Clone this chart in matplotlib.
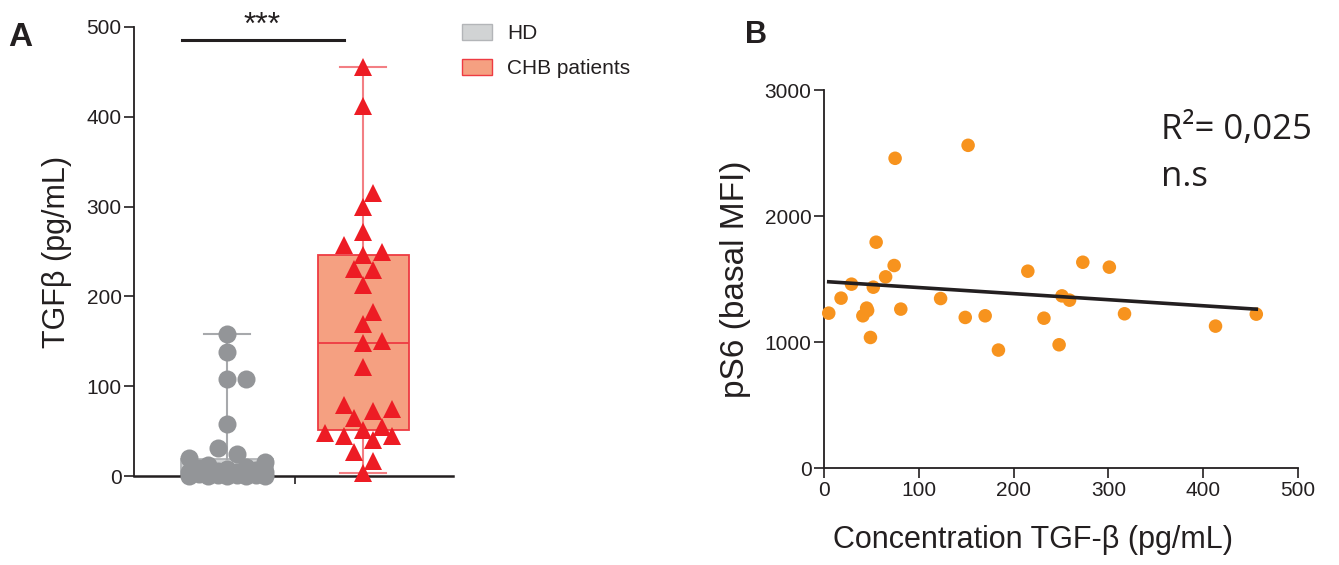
import matplotlib
matplotlib.use('Agg')
import matplotlib.pyplot as plt
import matplotlib.patches as mpatches
import numpy as np

plt.rcParams['font.family'] = ['Liberation Sans', 'DejaVu Sans']

# Panel A: TGF-beta concentration per group (pg/mL)
hd_values = np.array([158, 138, 108, 108, 58, 31, 24, 20, 16, 12, 10, 9, 8, 7, 6,
                      5, 5, 4, 3, 3, 2, 2, 1, 1, 1, 0, 0, 0, 0, 0])
chb_values = np.array([455, 412, 315, 300, 272, 257, 250, 246, 231, 229, 213, 183,
                       169, 150, 148, 121, 79, 75, 72, 65, 55, 51, 48, 45, 44, 40,
                       27, 17, 3])
group_labels = ['HD', 'CHB patients']
signif = '***'

# Panel B: pS6 basal MFI vs TGF-beta concentration
tgf_conc = np.array([5, 18, 29, 41, 45, 46, 49, 52, 55, 65, 74, 75, 81, 123, 149,
                     152, 170, 184, 215, 232, 248, 251, 259, 273, 301, 317, 413, 456])
ps6_mfi = np.array([1229, 1348, 1459, 1208, 1269, 1250, 1036, 1435, 1792, 1517, 1607,
                    2458, 1261, 1345, 1195, 2561, 1208, 936, 1562, 1189, 978, 1366,
                    1332, 1633, 1594, 1224, 1126, 1221])
r2_text = 'R\u00b2= 0,025'
ns_text = 'n.s'

ink = '#231f20'
gray_pt = '#939598'
red_pt = '#ed1c24'
orange_pt = '#f7931e'


def swarm(ax, values, center, diam_px, step_px, max_steps):
    # simple beeswarm in pixel space, values placed bottom-up
    trans = ax.transData
    c_px = trans.transform((center, 0))[0]
    placed = []
    xs = np.zeros(len(values), dtype=float)
    for i in np.argsort(values, kind='stable'):
        y_px = trans.transform((center, values[i]))[1]
        best, best_d = 0.0, -1.0
        for k in range(0, max_steps + 1):
            found = False
            for sgn in ([0] if k == 0 else [1, -1]):
                off = sgn * k * step_px
                if placed:
                    d = min(np.hypot(off - po, y_px - py) for po, py in placed)
                else:
                    d = np.inf
                if d >= diam_px * 0.92:
                    best, found = off, True
                    break
                if d > best_d:
                    best_d, best = d, off
            if found:
                break
        placed.append((best, y_px))
        xs[i] = trans.inverted().transform((c_px + best, y_px))[0]
    return xs


fig = plt.figure(figsize=(13.39, 5.65), dpi=100)

# ---------------- Panel A ----------------
axA = fig.add_axes([134 / 1339, 1 - 476 / 565, (453 - 134) / 1339, (476 - 27) / 565])
axA.set_xlim(0.316, 2.66)
axA.set_ylim(0, 500)

bp = axA.boxplot([hd_values, chb_values], positions=[1, 2], widths=0.67,
                 whis=(0, 100), patch_artist=True, showfliers=False,
                 capwidths=0.34, zorder=1)
box_faces = ['#d1d3d4', '#f5a081']
box_edges = ['#b3b5b8', '#ee3b42']
line_cols = ['#a7a9ac', '#f37f84']
for i in range(2):
    bp['boxes'][i].set(facecolor=box_faces[i], edgecolor=box_edges[i], linewidth=1.3)
    bp['medians'][i].set(color=box_edges[i], linewidth=1.3)
    for w in bp['whiskers'][2 * i:2 * i + 2]:
        w.set(color=line_cols[i], linewidth=1.5)
    for c in bp['caps'][2 * i:2 * i + 2]:
        c.set(color=line_cols[i], linewidth=1.5)

hd_x = swarm(axA, hd_values, 1, 18, 9.5, 4)
chb_x = swarm(axA, chb_values, 2, 17, 9.5, 4)
axA.plot(hd_x, hd_values, 'o', color=gray_pt, markersize=13, markeredgewidth=0,
         clip_on=False, zorder=3)
axA.plot(chb_x, chb_values, '^', color=red_pt, markersize=13, markeredgewidth=0,
         clip_on=False, zorder=3)

axA.plot([0.67, 1.86], [485, 485], color=ink, lw=2.2, clip_on=False)
axA.text(1.26, 484, signif, ha='center', va='bottom', fontsize=23, color=ink)

for s in ['top', 'right']:
    axA.spines[s].set_visible(False)
for s in ['left', 'bottom']:
    axA.spines[s].set_color(ink)
    axA.spines[s].set_linewidth(1.3)
axA.spines['bottom'].set_linewidth(1.8)
axA.set_yticks([0, 100, 200, 300, 400, 500])
axA.set_xticks([1.5])
axA.set_xticklabels([''])
axA.tick_params(axis='y', labelsize=15, length=7, width=1.2, color=ink, labelcolor=ink,
                pad=2)
axA.tick_params(axis='x', length=6, width=1.2, color=ink)
axA.set_ylabel('TGF\u03b2 (pg/mL)', fontsize=22, color=ink, labelpad=10)

legend_handles = [
    mpatches.Patch(facecolor=box_faces[0], edgecolor=box_edges[0], linewidth=1),
    mpatches.Patch(facecolor=box_faces[1], edgecolor=box_edges[1], linewidth=1),
]
fig.legend(legend_handles, group_labels, loc='upper left',
           bbox_to_anchor=(462 / 1339, 1 - 24 / 565), frameon=False,
           fontsize=15, handlelength=1.45, handleheight=0.8,
           handletextpad=0.7, labelspacing=0.75, borderpad=0, borderaxespad=0,
           labelcolor=ink)

fig.text(8 / 1339, 1 - 46 / 565, 'A', fontsize=24, fontweight='bold', color=ink)

# ---------------- Panel B ----------------
axB = fig.add_axes([824 / 1339, 1 - 468 / 565, (1298 - 824) / 1339, (468 - 90) / 565])
axB.set_xlim(0, 500)
axB.set_ylim(0, 3000)
axB.scatter(tgf_conc, ps6_mfi, s=95, color=orange_pt, edgecolors='none', zorder=3,
            clip_on=False)

slope, intercept = np.polyfit(tgf_conc, ps6_mfi, 1)
fit_x = np.array([tgf_conc.min(), tgf_conc.max()])
axB.plot(fit_x, intercept + slope * fit_x, color=ink, lw=2.6, zorder=4)

axB.text(0.71, 0.94, r2_text, transform=axB.transAxes, fontsize=25,
         family=['Open Sans', 'DejaVu Sans'], color=ink, va='top', ha='left')
axB.text(0.71, 0.815, ns_text, transform=axB.transAxes, fontsize=25,
         family=['Open Sans', 'DejaVu Sans'], color=ink, va='top', ha='left')

for s in ['top', 'right']:
    axB.spines[s].set_visible(False)
for s in ['left', 'bottom']:
    axB.spines[s].set_color(ink)
    axB.spines[s].set_linewidth(1.3)
axB.set_xticks([0, 100, 200, 300, 400, 500])
axB.set_yticks([0, 1000, 2000, 3000])
axB.tick_params(labelsize=15, length=7, width=1.2, color=ink, labelcolor=ink, pad=2)
axB.set_xlabel('Concentration TGF-\u03b2 (pg/mL)', fontsize=22, color=ink)
axB.xaxis.set_label_coords(0.441, -0.15)
axB.set_ylabel('pS6 (basal MFI)', fontsize=24, color=ink, labelpad=10)

fig.text(745 / 1339, 1 - 43 / 565, 'B', fontsize=22, fontweight='bold', color=ink)

fig.savefig('out.png', dpi=100)
